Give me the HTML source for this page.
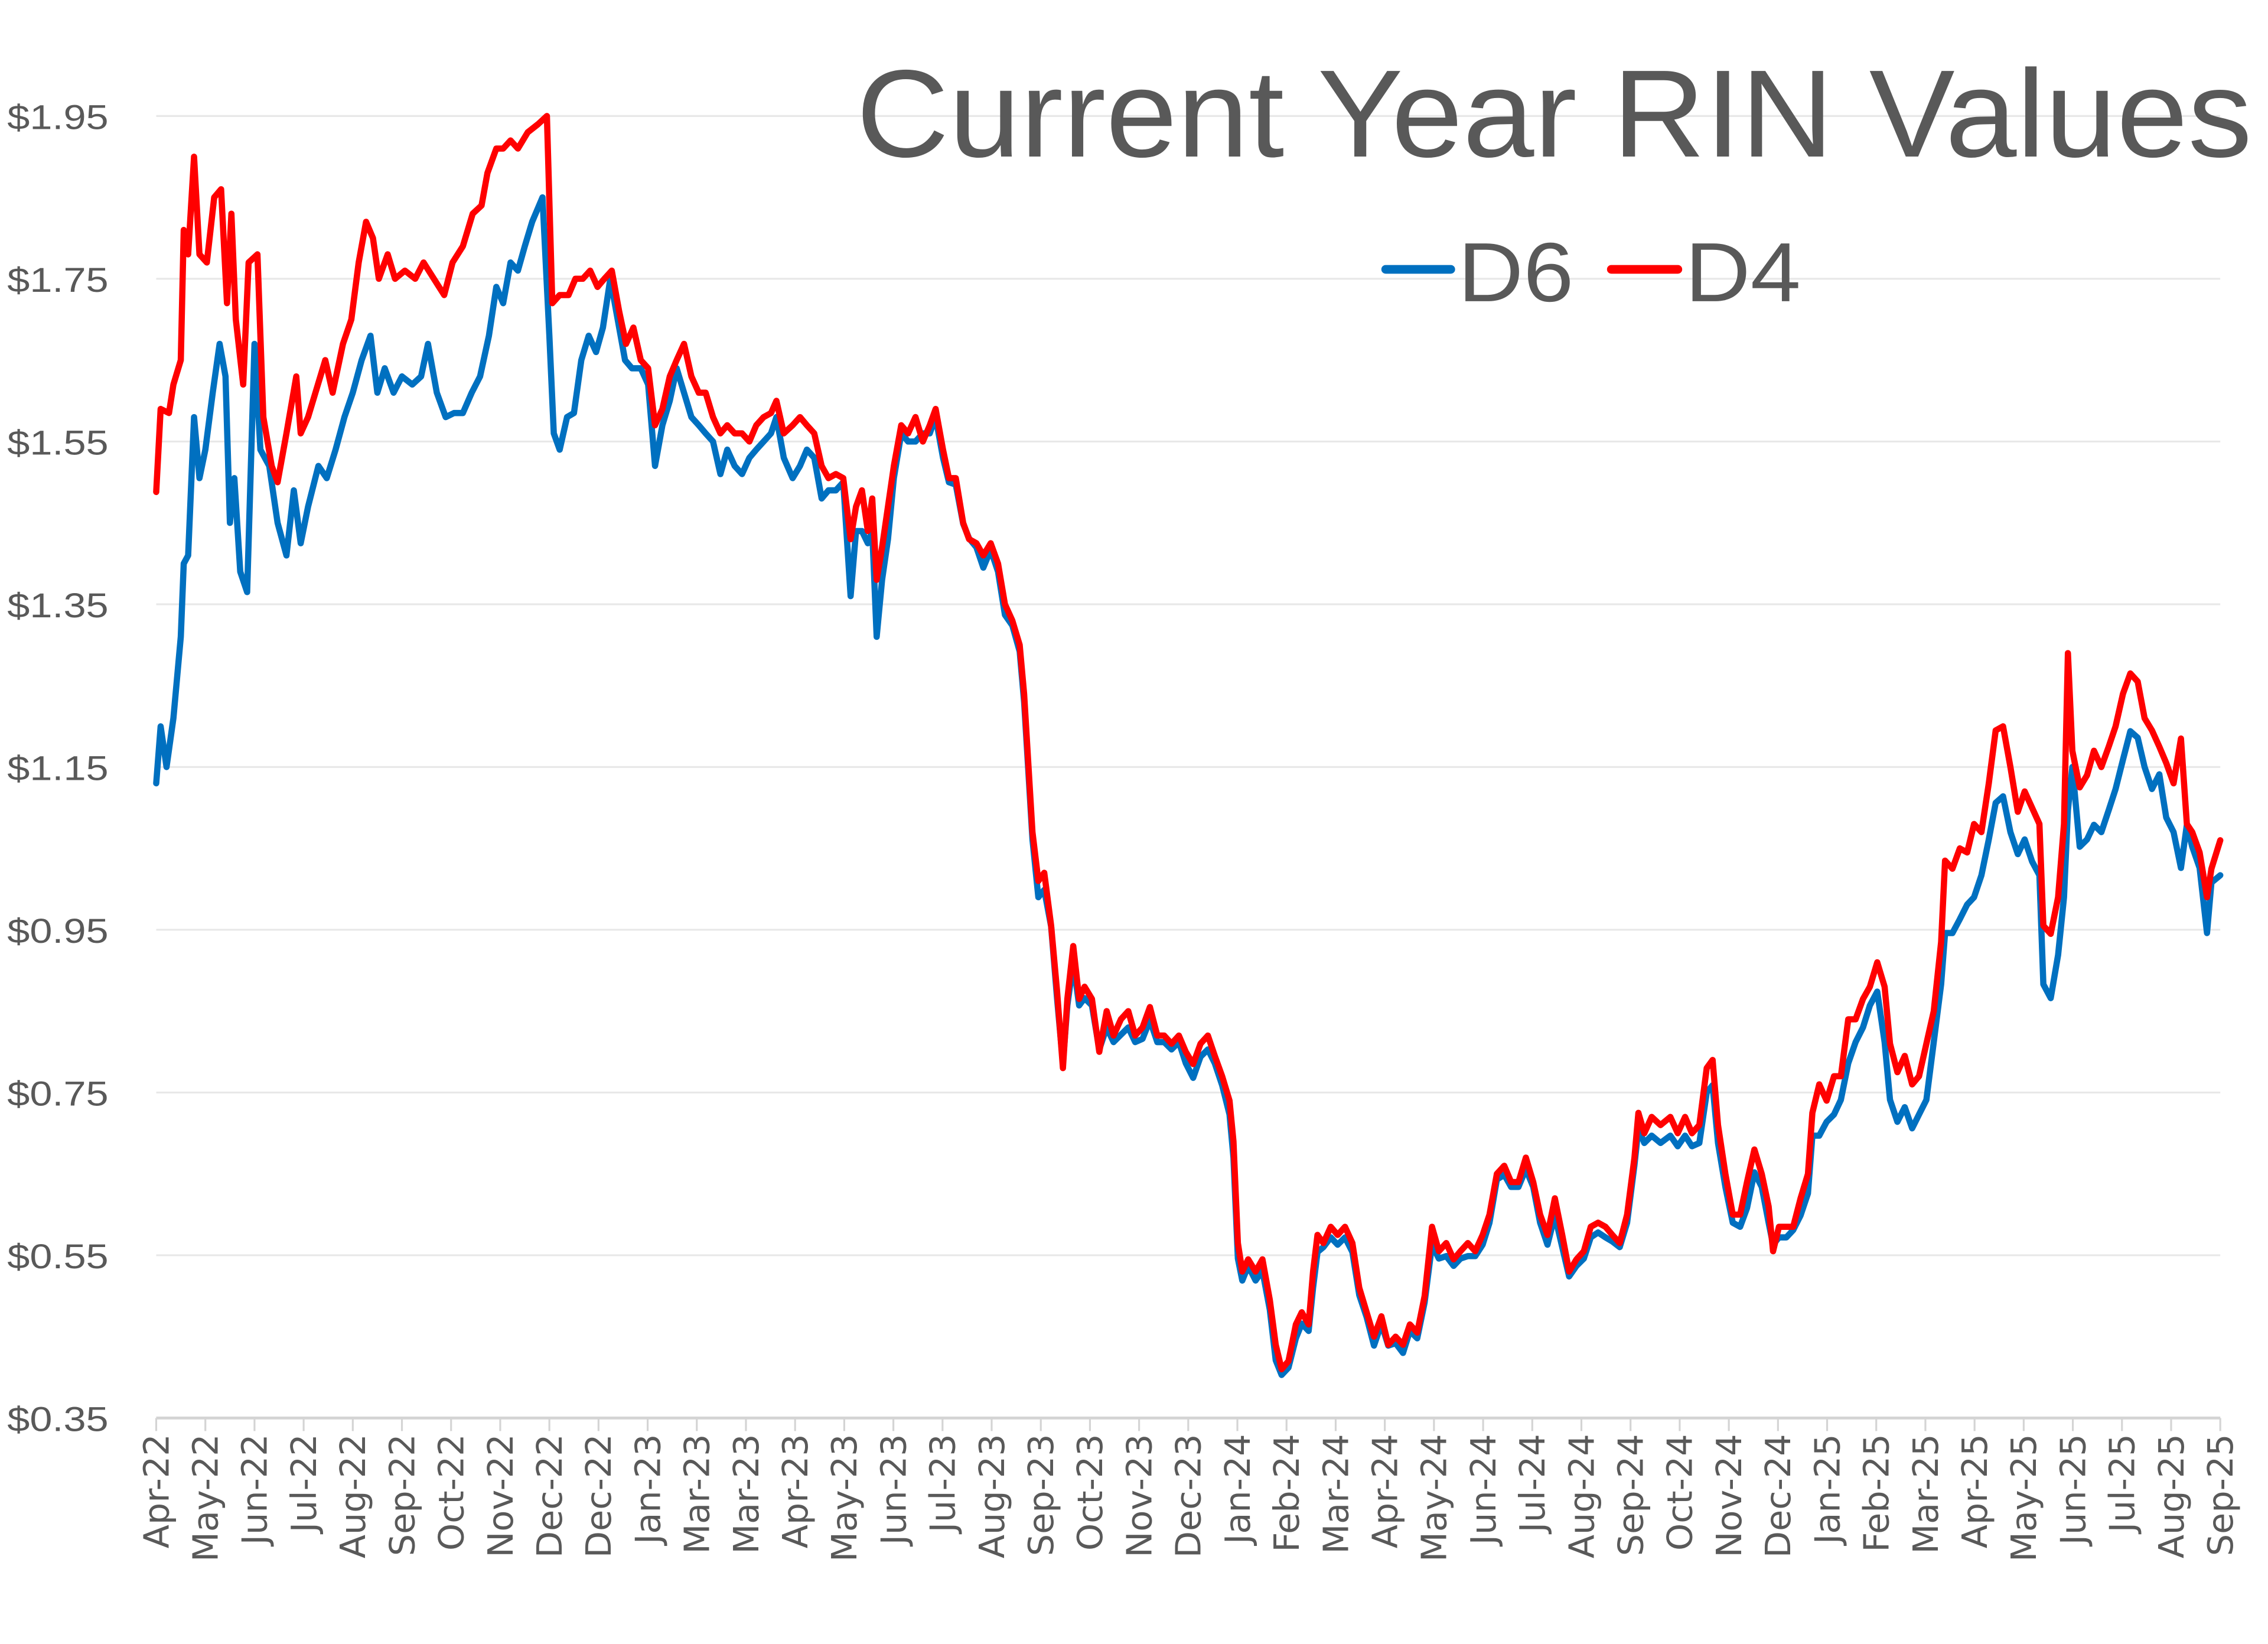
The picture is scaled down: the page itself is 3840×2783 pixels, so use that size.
<!DOCTYPE html>
<html><head><meta charset="utf-8"><style>
html,body{margin:0;padding:0;background:#fff;}
svg{display:block;}
</style></head><body>
<svg id="chart" width="3840" height="2783" viewBox="0 0 1568 1136" xmlns="http://www.w3.org/2000/svg" font-family="'Liberation Sans', sans-serif">
<rect x="0" y="0" width="1568" height="1136" fill="#fff"/>
<g id="grid"></g>
<g id="yticks"></g>
<g id="xaxis"></g>
<g id="series"></g>
<text x="592" y="108" font-size="86" fill="#595959" textLength="965" lengthAdjust="spacingAndGlyphs">Current Year RIN Values</text>
<g>
<line x1="958" y1="186" x2="1003" y2="186" stroke="#0070C0" stroke-width="6" stroke-linecap="round"/>
<text x="1008" y="208" font-size="58" fill="#595959" textLength="80" lengthAdjust="spacingAndGlyphs">D6</text>
<line x1="1114" y1="186" x2="1160" y2="186" stroke="#FF0000" stroke-width="6" stroke-linecap="round"/>
<text x="1165" y="208" font-size="58" fill="#595959" textLength="80" lengthAdjust="spacingAndGlyphs">D4</text>
</g>
</svg>
<script>
const yTickValues = [0.35,0.55,0.75,0.95,1.15,1.35,1.55,1.75,1.95];
const yTickLabels = ["$0.35","$0.55","$0.75","$0.95","$1.15","$1.35","$1.55","$1.75","$1.95"];
const xTickLabels = ["Apr-22","May-22","Jun-22","Jul-22","Aug-22","Sep-22","Oct-22","Nov-22","Dec-22","Dec-22","Jan-23","Mar-23","Mar-23","Apr-23","May-23","Jun-23","Jul-23","Aug-23","Sep-23","Oct-23","Nov-23","Dec-23","Jan-24","Feb-24","Mar-24","Apr-24","May-24","Jun-24","Jul-24","Aug-24","Sep-24","Oct-24","Nov-24","Dec-24","Jan-25","Feb-25","Mar-25","Apr-25","May-25","Jun-25","Jul-25","Aug-25","Sep-25"];

const d4EarlyMonths = [0,0.09,0.26,0.35,0.50,0.56,0.65,0.77,0.88,1.03,1.18,1.32,1.44,1.53,1.62,1.77,1.88,2.06,2.18,2.35,2.47,2.65,2.85,2.94,3.09,3.24,3.44,3.59,3.80,3.97,4.12,4.27,4.41,4.53,4.71,4.86,5.06,5.27,5.44,5.65,5.86,6.03,6.24,6.44,6.62,6.74,6.92,7.06,7.21,7.36,7.56,7.77,7.95,8.06,8.21,8.39,8.53,8.68,8.83,8.98,9.12,9.27,9.42,9.56,9.71,9.86,10.01];
const d4EarlyValues = [1.488,1.59,1.585,1.62,1.65,1.81,1.78,1.90,1.78,1.77,1.85,1.86,1.72,1.83,1.70,1.62,1.77,1.78,1.58,1.52,1.50,1.56,1.63,1.56,1.58,1.61,1.65,1.61,1.67,1.70,1.77,1.82,1.80,1.75,1.78,1.75,1.76,1.75,1.77,1.75,1.73,1.77,1.79,1.83,1.84,1.88,1.91,1.91,1.92,1.91,1.93,1.94,1.95,1.72,1.73,1.73,1.75,1.75,1.76,1.74,1.75,1.76,1.71,1.67,1.69,1.65,1.64];

const d6EarlyMonths = [0,0.09,0.21,0.35,0.50,0.56,0.65,0.77,0.88,1.00,1.15,1.29,1.41,1.50,1.59,1.71,1.85,2.00,2.12,2.30,2.47,2.65,2.80,2.94,3.09,3.30,3.47,3.65,3.83,4.00,4.18,4.36,4.50,4.65,4.83,5.00,5.21,5.39,5.53,5.71,5.89,6.06,6.24,6.42,6.59,6.77,6.92,7.06,7.21,7.36,7.50,7.65,7.86,8.00,8.09,8.21,8.36,8.50,8.65,8.80,8.95,9.09,9.24,9.39,9.54,9.68,9.86,10.01];
const d6EarlyValues = [1.13,1.20,1.15,1.21,1.31,1.40,1.41,1.58,1.505,1.54,1.61,1.67,1.63,1.45,1.505,1.39,1.365,1.67,1.54,1.52,1.45,1.41,1.49,1.425,1.47,1.52,1.505,1.54,1.58,1.61,1.65,1.68,1.61,1.64,1.61,1.63,1.62,1.63,1.67,1.61,1.58,1.585,1.585,1.61,1.63,1.68,1.74,1.72,1.77,1.76,1.79,1.82,1.85,1.68,1.56,1.54,1.58,1.585,1.65,1.68,1.66,1.69,1.75,1.70,1.65,1.64,1.64,1.62];

const lateMonths = [10.15,10.30,10.45,10.59,10.74,10.89,11.04,11.18,11.33,11.48,11.62,11.77,11.92,12.07,12.21,12.36,12.51,12.62,12.77,12.95,13.10,13.24,13.39,13.54,13.68,13.83,13.98,14.13,14.24,14.36,14.48,14.57,14.66,14.77,14.89,15.01,15.16,15.30,15.45,15.60,15.74,15.86,16.01,16.13,
16.27,16.42,16.54,16.69,16.83,16.98,17.13,17.27,17.42,17.57,17.66,17.75,17.83,17.95,18.07,18.21,18.33,18.45,18.54,18.66,18.78,18.89,19.04,19.19,19.34,19.48,19.63,19.78,19.92,20.07,20.22,20.37,20.51,20.66,20.81,20.95,21.10,21.25,21.40,21.54,21.69,21.84,21.92,22.01,22.10,22.22,22.37,22.51,22.66,22.78,22.90,23.04,23.19,23.31,23.45,23.54,23.63,23.75,23.90,24.04,24.19,24.34,24.48,24.63,24.78,24.93,25.07,25.22,25.37,25.51,25.66,25.81,25.96,26.10,26.25,26.40,26.54,26.69,26.84,26.99,27.13,27.28,27.43,27.57,27.72,27.87,28.02,28.16,28.31,28.46,28.61,28.75,28.90,29.05,29.19,29.34,29.49,29.63,29.78,29.93,30.08,30.16,30.28,30.43,30.61,30.81,30.96,31.11,31.25,31.40,31.55,31.67,31.78,31.93,32.08,32.23,32.37,32.52,32.67,32.81,32.90,33.02,33.17,33.31,33.46,33.61,33.70,33.84,33.99,34.14,34.28,34.43,34.58,34.73,34.87,35.02,35.17,35.28,35.43,35.58,35.73,35.87,36.02,36.17,36.32,36.40,36.55,36.70,36.85,36.99,37.14,37.29,37.43,37.58,37.73,37.88,38.02,38.17,38.32,38.40,38.55,38.70,38.82,38.90,38.99,39.14,39.29,39.43,39.58,39.73,39.87,40.02,40.17,40.32,40.46,40.61,40.76,40.90,41.05,41.20,41.32,41.43,41.58,41.73,41.82,42];

const d4LateValues = [1.57,1.59,1.63,1.65,1.67,1.63,1.61,1.61,1.58,1.56,1.57,1.56,1.56,1.55,1.57,1.58,1.585,1.60,1.56,1.57,1.58,1.57,1.56,1.52,1.505,1.51,1.505,1.43,1.47,1.49,1.44,1.48,1.38,1.42,1.47,1.52,1.57,1.56,1.58,1.55,1.57,1.59,1.54,1.505,
1.505,1.45,1.43,1.425,1.41,1.425,1.40,1.35,1.33,1.30,1.24,1.15,1.07,1.01,1.02,0.955,0.875,0.78,0.865,0.93,0.865,0.88,0.865,0.80,0.85,0.82,0.84,0.85,0.82,0.83,0.855,0.82,0.82,0.81,0.82,0.80,0.785,0.81,0.82,0.795,0.77,0.74,0.69,0.565,0.53,0.545,0.53,0.545,0.495,0.44,0.41,0.42,0.465,0.48,0.465,0.53,0.575,0.565,0.585,0.575,0.585,0.565,0.51,0.48,0.45,0.475,0.44,0.45,0.44,0.465,0.455,0.50,0.585,0.555,0.565,0.545,0.555,0.565,0.555,0.575,0.60,0.65,0.66,0.64,0.64,0.67,0.64,0.60,0.575,0.62,0.575,0.53,0.545,0.555,0.585,0.59,0.585,0.575,0.565,0.60,0.67,0.725,0.70,0.72,0.71,0.72,0.70,0.72,0.70,0.71,0.78,0.79,0.71,0.65,0.60,0.60,0.64,0.68,0.65,0.61,0.555,0.585,0.585,0.585,0.62,0.65,0.725,0.76,0.74,0.77,0.77,0.84,0.84,0.865,0.88,0.91,0.88,0.81,0.775,0.795,0.76,0.77,0.81,0.85,0.935,1.035,1.025,1.05,1.045,1.08,1.07,1.13,1.195,1.20,1.15,1.095,1.12,1.10,1.08,0.955,0.945,0.99,1.08,1.29,1.17,1.125,1.14,1.17,1.15,1.175,1.20,1.24,1.265,1.255,1.21,1.195,1.175,1.155,1.13,1.185,1.08,1.07,1.045,0.99,1.025,1.06];

const d6LateValues = [1.52,1.57,1.60,1.64,1.61,1.58,1.57,1.56,1.55,1.51,1.54,1.52,1.51,1.53,1.54,1.55,1.56,1.58,1.53,1.505,1.52,1.54,1.53,1.48,1.49,1.49,1.50,1.36,1.44,1.44,1.425,1.44,1.31,1.38,1.43,1.505,1.56,1.55,1.55,1.56,1.56,1.58,1.53,1.50,
1.497,1.449,1.431,1.420,1.395,1.417,1.390,1.337,1.324,1.292,1.230,1.141,1.061,0.990,0.999,0.954,0.866,0.786,0.857,0.910,0.857,0.866,0.857,0.803,0.830,0.812,0.821,0.830,0.812,0.816,0.839,0.812,0.812,0.803,0.812,0.786,0.768,0.794,0.803,0.786,0.759,0.723,0.670,0.546,0.519,0.537,0.519,0.531,0.483,0.421,0.403,0.412,0.448,0.466,0.457,0.510,0.554,0.560,0.572,0.563,0.572,0.554,0.501,0.474,0.439,0.466,0.439,0.442,0.430,0.457,0.448,0.492,0.563,0.546,0.549,0.537,0.546,0.549,0.549,0.563,0.590,0.643,0.649,0.634,0.634,0.656,0.634,0.590,0.563,0.599,0.560,0.524,0.537,0.546,0.572,0.578,0.572,0.567,0.560,0.590,0.661,0.706,0.688,0.697,0.688,0.697,0.684,0.697,0.684,0.688,0.750,0.759,0.688,0.634,0.590,0.585,0.608,0.652,0.634,0.590,0.563,0.572,0.572,0.581,0.599,0.626,0.697,0.697,0.714,0.723,0.741,0.786,0.812,0.830,0.857,0.874,0.812,0.741,0.714,0.732,0.706,0.723,0.741,0.812,0.883,0.946,0.946,0.963,0.981,0.990,1.017,1.061,1.106,1.114,1.070,1.043,1.061,1.034,1.017,0.883,0.866,0.919,0.990,1.097,1.150,1.052,1.061,1.079,1.070,1.097,1.123,1.159,1.194,1.186,1.150,1.123,1.141,1.088,1.070,1.026,1.079,1.052,1.026,0.946,1.008,1.017];

const NS = "http://www.w3.org/2000/svg";
const X0 = 108, X1 = 1535, MONTHS = 42, Y_TOP = 80, Y_BOT = 980, VMAX = 1.95, VMIN = 0.35;
function xScale(m){ return X0 + (m / MONTHS) * (X1 - X0); }
function yScale(v){ return Y_TOP + (VMAX - v) / (VMAX - VMIN) * (Y_BOT - Y_TOP); }
function mk(tag, attrs){ const e = document.createElementNS(NS, tag); for (const k in attrs) e.setAttribute(k, attrs[k]); return e; }

const grid = document.getElementById('grid');
const yt = document.getElementById('yticks');
yTickValues.forEach((v, i) => {
  const y = yScale(v);
  if (i > 0) {
    const gl = mk('line', {x1: X0, x2: X1, y1: y, y2: y, stroke: '#e8e8e8', 'stroke-width': 1.3});
    
    
    grid.appendChild(gl);
  }
  const t = mk('text', {x: 5, y: y + 9, 'font-size': 24, fill: '#595959', textLength: 70, lengthAdjust: 'spacingAndGlyphs'});
  
  
  t.textContent = yTickLabels[i];
  yt.appendChild(t);
});

const xa = document.getElementById('xaxis');
const axisLine = mk('line', {x1: X0, x2: X1, y1: Y_BOT, y2: Y_BOT, stroke: '#d4d4d4', 'stroke-width': 2});


xa.appendChild(axisLine);
xTickLabels.forEach((lab, i) => {
  const x = xScale(i * MONTHS / (xTickLabels.length - 1));
  const tk = mk('line', {x1: x, x2: x, y1: Y_BOT, y2: Y_BOT + 9, stroke: '#d4d4d4', 'stroke-width': 1.3});
  
  
  xa.appendChild(tk);
  const t = mk('text', {x: 0, y: 0, 'text-anchor': 'end', 'font-size': 24, 'font-family': "'DejaVu Sans', sans-serif", fill: '#595959', transform: `translate(${x + 8.5},${Y_BOT + 11}) rotate(-90)`});
  
  
  t.textContent = lab;
  xa.appendChild(t);
});

function drawSeries(months, values, color, name){
  const n = Math.min(months.length, values.length);
  let d = '';
  for (let i = 0; i < n; i++) d += (i ? 'L' : 'M') + xScale(months[i]).toFixed(2) + ',' + yScale(values[i]).toFixed(2);
  const p = mk('path', {d: d, fill: 'none', stroke: color, 'stroke-width': 4.3, 'stroke-linejoin': 'round', 'stroke-linecap': 'round'});
  
  
  document.getElementById('series').appendChild(p);
}
drawSeries(d6EarlyMonths.concat(lateMonths), d6EarlyValues.concat(d6LateValues), '#0070C0', 'd6-line');
drawSeries(d4EarlyMonths.concat(lateMonths), d4EarlyValues.concat(d4LateValues), '#FF0000', 'd4-line');
</script>
</body></html>
